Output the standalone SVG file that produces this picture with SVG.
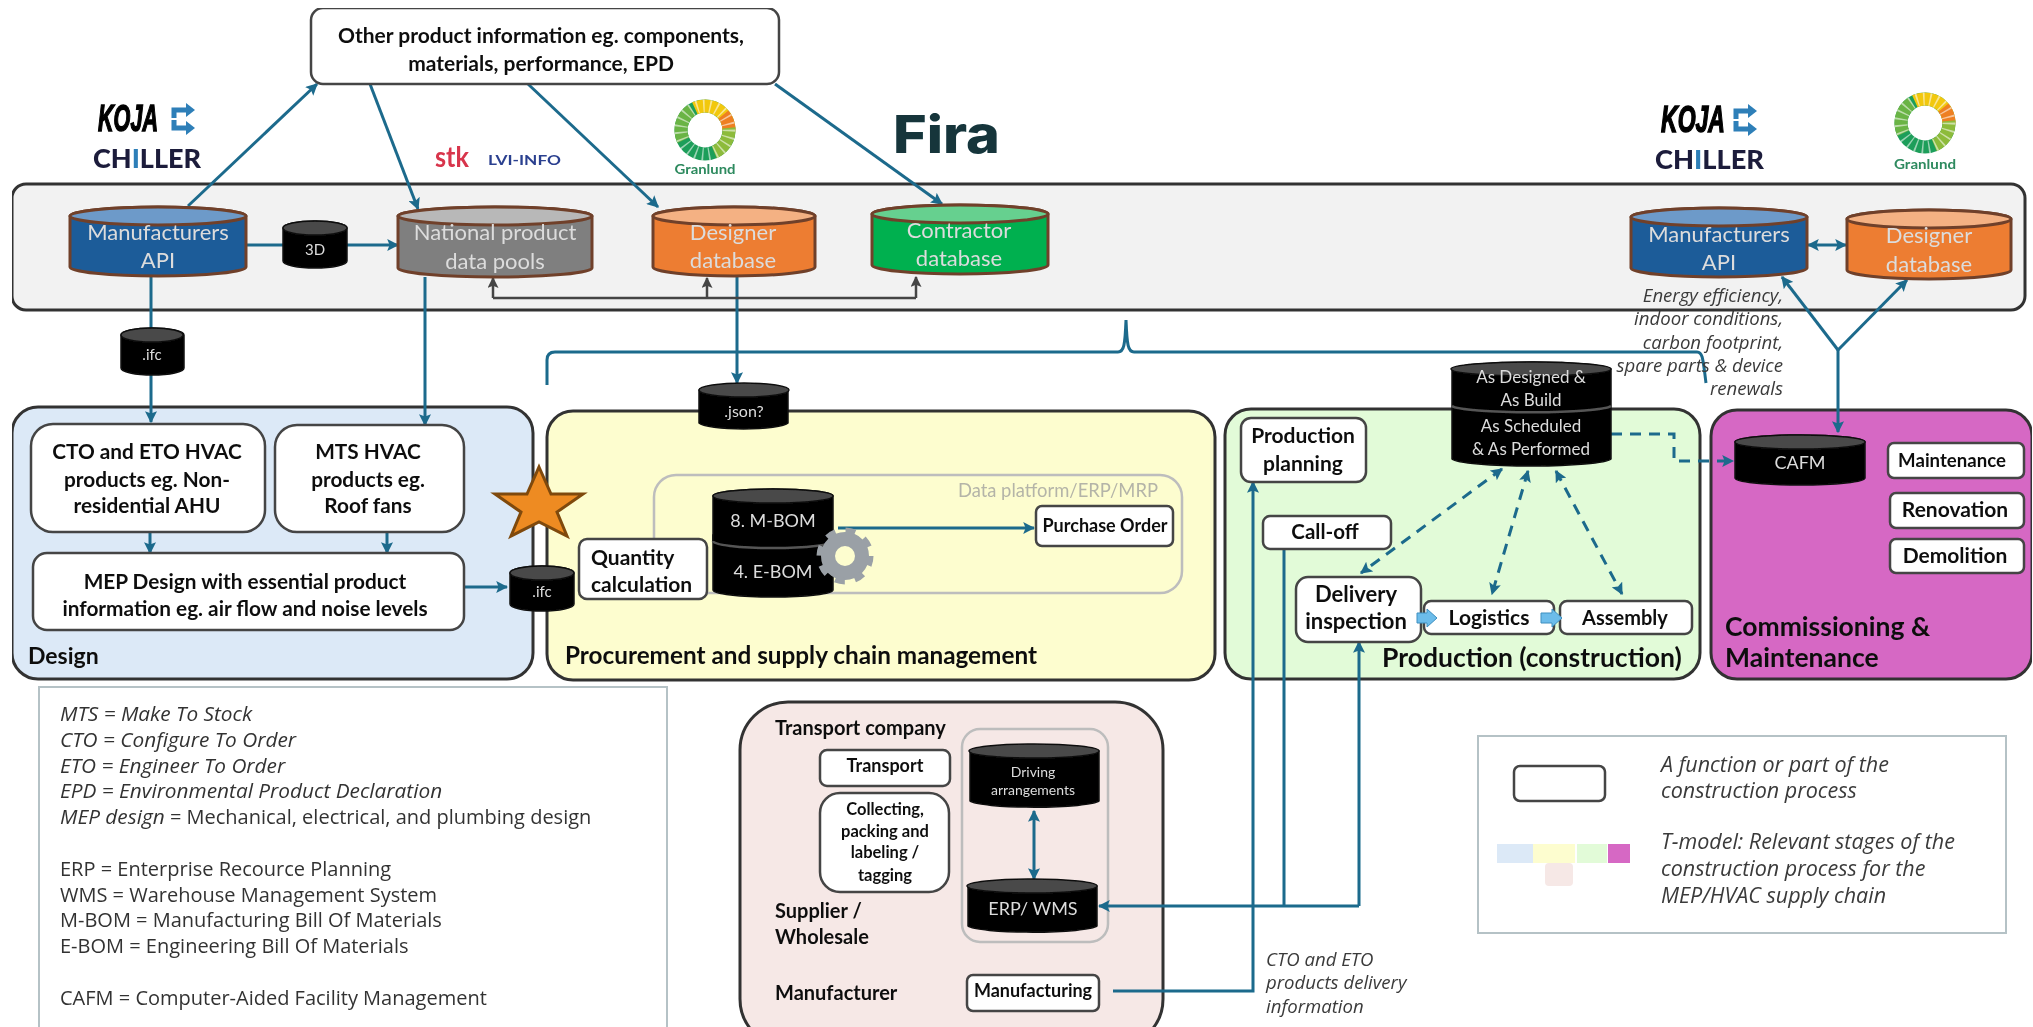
<svg xmlns="http://www.w3.org/2000/svg" width="2033" height="1027" viewBox="0 0 2033 1027">
<defs>
<style>
text{font-family:Lato,"Open Sans","Liberation Sans",sans-serif}
.stage{stroke:#333;stroke-width:3}
.box{fill:#fff;stroke:#444;stroke-width:2.5}
.c{text-anchor:middle}
.b{font-weight:700;fill:#111}
.t20{font-size:20.8px}
.t18{font-size:20px}
.lab{font-weight:700;fill:#111}
.cyl{stroke:#70412a;stroke-width:3}
.dk{fill:#000;stroke:#111;stroke-width:1.5}
.dkt{fill:#4a4a4a;stroke:#111;stroke-width:1.5}
.wt{fill:#dcdcdc;text-anchor:middle}
.w21{font-size:22px}
.link{fill:none;stroke:#1c6a8c;stroke-width:3}
.ar{marker-end:url(#a)}
.dbl{marker-end:url(#a);marker-start:url(#a)}
.dash{stroke-dasharray:11 8}
.gr{fill:none;stroke:#454545;stroke-width:2.5}
.note{font-family:"Open Sans",Lato,sans-serif;font-style:italic;font-size:18.6px;fill:#3a3a3a}
.abbr{font-family:"Open Sans",Lato,sans-serif;font-size:20px;fill:#333}
.it{font-style:italic;font-size:20.8px}
.leg{font-family:"Open Sans",Lato,sans-serif;font-style:italic;font-size:21.5px;fill:#3a3a3a}
.frame{fill:#fff;stroke:#b5c2c6;stroke-width:2}
.panel{fill:none;stroke:#bdbdbd;stroke-width:2.5}
.blk{fill:#6cbcea;stroke:#3d8fc0;stroke-width:1}
.koja{font-family:"Liberation Sans",sans-serif;font-weight:700;font-style:italic;font-size:36px;fill:#000;stroke:#000;stroke-width:1.5}
.fira{font-family:Inter,sans-serif;font-weight:800;font-size:52px;fill:#12343b}
</style>
<marker id="a" viewBox="0 0 10 10" refX="9" refY="5" markerWidth="12" markerHeight="12" markerUnits="userSpaceOnUse" orient="auto-start-reverse"><path d="M0 0L10 5L0 10L2 5Z" fill="#1c6a8c"/></marker>
<marker id="g" viewBox="0 0 10 10" refX="9" refY="5" markerWidth="11" markerHeight="11" markerUnits="userSpaceOnUse" orient="auto"><path d="M0 0L10 5L0 10L2 5Z" fill="#454545"/></marker>
<g id="wheel">
<circle r="24" fill="none" stroke="#1f9e5a" stroke-width="13"/>
<circle r="24" fill="none" stroke="#f2c811" stroke-width="13" stroke-dasharray="48 103" transform="rotate(-115)"/>
<circle r="24" fill="none" stroke="#ee7f22" stroke-width="13" stroke-dasharray="18 133" transform="rotate(-40)"/>
<circle r="24" fill="none" stroke="#8dbb3a" stroke-width="13" stroke-dasharray="30 121" transform="rotate(-5)"/>
<circle r="24" fill="none" stroke="#6bb445" stroke-width="13" stroke-dasharray="34 117" transform="rotate(155)"/>
<circle r="24" fill="none" stroke="#fff" stroke-width="13" stroke-dasharray="1.5 5" opacity=".55"/>
</g>
<g id="kojaicon" fill="none" stroke="#2d7fb8" stroke-width="5">
<path d="M20 7H7V15"/><path d="M20 25H7V17"/>
<path d="M19 0L28 7L19 14Z" fill="#2d7fb8" stroke="none"/><path d="M19 18L28 25L19 32Z" fill="#2d7fb8" stroke="none"/>
</g>
<filter id="soft" x="0" y="0" width="100%" height="100%"><feGaussianBlur stdDeviation="0.5"/></filter>
</defs>
<rect width="2033" height="1027" fill="#fff"/>
<g filter="url(#soft)">

<g id="logos">
<text x="98" y="131" class="koja" textLength="60" lengthAdjust="spacingAndGlyphs">KOJA</text>
<use href="#kojaicon" x="167" y="103"/>
<text x="93" y="168" font-size="27" font-weight="900" textLength="108" lengthAdjust="spacingAndGlyphs" fill="#1b1b3a">CH<tspan fill="#2d7fb8">I</tspan>LLER</text>
<text x="435" y="167" font-size="28" font-weight="700" textLength="34" lengthAdjust="spacingAndGlyphs" fill="#d8344c">stk</text>
<text x="488" y="165" font-size="13" font-weight="700" textLength="73" lengthAdjust="spacingAndGlyphs" fill="#2a3f8f">LVI-INFO</text>
<use href="#wheel" x="705" y="130"/>
<text x="705" y="174" class="c" font-size="14" font-weight="700" textLength="61" lengthAdjust="spacingAndGlyphs" fill="#2d8a5e">Granlund</text>
<text x="893" y="153" class="fira" textLength="107" lengthAdjust="spacingAndGlyphs">Fira</text>
<text x="1661" y="132" class="koja" textLength="64" lengthAdjust="spacingAndGlyphs">KOJA</text>
<use href="#kojaicon" x="1729" y="104"/>
<text x="1655" y="169" font-size="27" font-weight="900" textLength="109" lengthAdjust="spacingAndGlyphs" fill="#1b1b3a">CH<tspan fill="#2d7fb8">I</tspan>LLER</text>
<use href="#wheel" x="1925" y="123"/>
<text x="1925" y="169" class="c" font-size="14" font-weight="700" textLength="62" lengthAdjust="spacingAndGlyphs" fill="#2d8a5e">Granlund</text>
</g>

<g id="platform"><rect x="12" y="184" width="2013" height="126" rx="14" fill="#f2f2f2" class="stage"/></g>
<g id="stage-design"><rect x="12" y="407" width="521" height="272" rx="26" fill="#dce9f7" class="stage"/><text x="28" y="664" class="lab" font-size="23">Design</text></g>
<g id="stage-procurement"><rect x="547" y="411" width="668" height="269" rx="26" fill="#fdfdcf" class="stage"/><text x="565" y="664" class="lab" font-size="24.3">Procurement and supply chain management</text></g>
<g id="stage-production"><rect x="1225" y="409" width="475" height="270" rx="26" fill="#e2fbd8" class="stage"/><text x="1382" y="667" class="lab" font-size="26.5">Production (construction)</text></g>
<g id="stage-commissioning"><rect x="1711" y="410" width="321" height="269" rx="26" fill="#d667c4" class="stage"/><text x="1725" y="636" class="lab" font-size="26.5">Commissioning &amp;</text><text x="1725" y="667" class="lab" font-size="26.5">Maintenance</text></g>
<g id="stage-supply"><rect x="740" y="702" width="423" height="345" rx="48" fill="#f6e8e6" class="stage"/><text x="775" y="735" class="b t18">Transport company</text><text x="775" y="918" class="b t18">Supplier /</text><text x="775" y="944" class="b t18">Wholesale</text><text x="775" y="1000" class="b t18">Manufacturer</text></g>
<g id="panels"><rect x="654" y="475" width="528" height="118" rx="22" class="panel"/><text x="1158" y="497" text-anchor="end" font-size="18.4" fill="#b4b4a8">Data platform/ERP/MRP</text><rect x="962" y="729" width="146" height="213" rx="18" class="panel"/></g>

<g id="connectors">
<path class="link ar" d="M188 206L317 84"/>
<path class="link ar" d="M370 84L418 209"/>
<path class="link ar" d="M528 84L658 207"/>
<path class="link ar" d="M775 84L942 204"/>
<path class="link ar" d="M246 245H398"/>
<path class="link" d="M151 276V328"/>
<path class="link ar" d="M151 375V422"/>
<path class="link ar" d="M425 277V425"/>
<path class="link ar" d="M737 277V383"/>
<path class="gr" d="M493 298H916"/>
<path class="gr" d="M493 298V278" marker-end="url(#g)"/>
<path class="gr" d="M707 298V278" marker-end="url(#g)"/>
<path class="gr" d="M916 298V277" marker-end="url(#g)"/>
<path class="link" d="M547 385V360Q547 352 555 352H1118C1124 352 1125 345 1126 320C1127 345 1128 352 1134 352H1697C1703 352 1703 360 1706 383"/>
<path class="link ar" d="M1838 350V432"/>
<path class="link ar" d="M1838 350L1782 277"/>
<path class="link ar" d="M1838 350L1907 280"/>
<path class="link dbl" d="M1808 245H1846"/>
<path class="link ar" d="M150 532V553"/>
<path class="link ar" d="M387 532V553"/>
<path class="link ar" d="M464 587H507"/>
<path class="link ar" d="M838 528H1034"/>
<path class="link dash dbl" d="M1502 469L1361 573"/>
<path class="link dash dbl" d="M1528 471L1492 594"/>
<path class="link dash dbl" d="M1556 471L1622 594"/>
<path class="link dash ar" d="M1611 434H1674V461H1733"/>
<path class="link ar" d="M1113 991H1253V482"/>
<path class="link" d="M1284 549V906"/>
<path class="link ar" d="M1359 906V642"/>
<path class="link ar" d="M1359 906H1099"/>
<path class="link dbl" d="M1034 811V879"/>
</g>

<g id="top-info"><rect x="311" y="8" width="468" height="76" rx="12" class="box"/><text x="541" y="43" class="c b" font-size="21">Other product information eg. components,</text><text x="541" y="71" class="c b" font-size="21">materials, performance, EPD</text></g>

<g id="db-manufacturers"><path class="cyl" fill="#1f5c99" d="M70 216V267A88 9 0 0 0 246 267V216A88 9 0 0 0 70 216Z"/><ellipse class="cyl" fill="#6d9ac9" cx="158" cy="216" rx="88" ry="9"/><text x="158" y="240" class="wt w21">Manufacturers</text><text x="158" y="268" class="wt w21">API</text></g>
<g id="db-3d"><path class="dk" d="M283 228V261A32 7 0 0 0 347 261V228A32 7 0 0 0 283 228Z"/><ellipse class="dkt" cx="315" cy="228" rx="32" ry="7"/><text x="315" y="255" class="wt" font-size="15">3D</text></g>
<g id="db-national"><path class="cyl" fill="#7f7f7f" d="M398 216V268A97 9 0 0 0 592 268V216A97 9 0 0 0 398 216Z"/><ellipse class="cyl" fill="#b8b8b8" cx="495" cy="216" rx="97" ry="9"/><text x="495" y="240" class="wt w21">National product</text><text x="495" y="269" class="wt w21">data pools</text></g>
<g id="db-designer"><path class="cyl" fill="#ed7d31" d="M653 216V267A81 9 0 0 0 815 267V216A81 9 0 0 0 653 216Z"/><ellipse class="cyl" fill="#f4b183" cx="734" cy="216" rx="81" ry="9"/><text x="733" y="240" class="wt w21">Designer</text><text x="733" y="268" class="wt w21">database</text></g>
<g id="db-contractor"><path class="cyl" fill="#00b050" d="M872 214V265A88 9 0 0 0 1048 265V214A88 9 0 0 0 872 214Z"/><ellipse class="cyl" fill="#66d08f" cx="960" cy="214" rx="88" ry="9"/><text x="959" y="238" class="wt w21">Contractor</text><text x="959" y="266" class="wt w21">database</text></g>
<g id="db-manufacturers2"><path class="cyl" fill="#1f5c99" d="M1631 217V268A88 9 0 0 0 1807 268V217A88 9 0 0 0 1631 217Z"/><ellipse class="cyl" fill="#6d9ac9" cx="1719" cy="217" rx="88" ry="9"/><text x="1719" y="242" class="wt w21">Manufacturers</text><text x="1719" y="270" class="wt w21">API</text></g>
<g id="db-designer2"><path class="cyl" fill="#ed7d31" d="M1847 219V270A82 9 0 0 0 2011 270V219A82 9 0 0 0 1847 219Z"/><ellipse class="cyl" fill="#f4b183" cx="1929" cy="219" rx="82" ry="9"/><text x="1929" y="243" class="wt w21">Designer</text><text x="1929" y="272" class="wt w21">database</text></g>
<g id="db-ifc1"><path class="dk" d="M121 335V368A31 7 0 0 0 184 368V335A31 7 0 0 0 121 335Z"/><ellipse class="dkt" cx="152" cy="335" rx="31" ry="7"/><text x="152" y="360" class="wt" font-size="15">.ifc</text></g>
<g id="db-json"><path class="dk" d="M699 390V423A45 7 0 0 0 788 423V390A45 7 0 0 0 699 390Z"/><ellipse class="dkt" cx="744" cy="390" rx="45" ry="7"/><text x="744" y="417" class="wt" font-size="16">.json?</text></g>

<g id="note-energy"><text class="note" x="1783" y="302" text-anchor="end">Energy efficiency,</text><text class="note" x="1783" y="325" text-anchor="end">indoor conditions,</text><text class="note" x="1783" y="349" text-anchor="end">carbon footprint,</text><text class="note" x="1783" y="372" text-anchor="end">spare parts &amp; device</text><text class="note" x="1783" y="395" text-anchor="end">renewals</text></g>

<g id="n-cto"><rect x="31" y="424" width="234" height="108" rx="22" class="box"/><text x="147" y="459" class="c b t20">CTO and ETO HVAC</text><text x="147" y="487" class="c b t20">products eg. Non-</text><text x="147" y="513" class="c b t20">residential AHU</text></g>
<g id="n-mts"><rect x="275" y="425" width="189" height="107" rx="22" class="box"/><text x="368" y="459" class="c b t20">MTS HVAC</text><text x="368" y="487" class="c b t20">products eg.</text><text x="368" y="513" class="c b t20">Roof fans</text></g>
<g id="n-mep"><rect x="33" y="553" width="431" height="77" rx="14" class="box"/><text x="245" y="589" class="c b t20">MEP Design with essential product</text><text x="245" y="616" class="c b t20">information eg. air flow and noise levels</text></g>
<g id="db-ifc2"><path class="dk" d="M510 573V604A32 7 0 0 0 574 604V573A32 7 0 0 0 510 573Z"/><ellipse class="dkt" cx="542" cy="573" rx="32" ry="7"/><text x="542" y="597" class="wt" font-size="15">.ifc</text></g>
<g id="star"><path d="M539 467L551 494H583L557 512L567 536L539 522L511 536L521 512L495 494H527Z" fill="#ee8b21" stroke="#7f4a0c" stroke-width="3"/></g>

<g id="n-quantity"><rect x="579" y="539" width="128" height="60" rx="8" class="box"/><text x="591" y="565" class="b" font-size="21">Quantity</text><text x="591" y="592" class="b" font-size="21">calculation</text></g>
<g id="db-ebom"><path class="dk" d="M713 535V590A60 7 0 0 0 833 590V535Z"/><text x="773" y="578" class="wt" font-size="18">4. E-BOM</text></g>
<g id="db-mbom"><path class="dk" d="M713 496V541A60 7 0 0 0 833 541V496A60 7 0 0 0 713 496Z"/><ellipse class="dkt" cx="773" cy="496" rx="60" ry="7"/><path d="M713 541A60 7 0 0 0 833 541" fill="none" stroke="#555" stroke-width="2.5"/><text x="773" y="527" class="wt" font-size="18">8. M-BOM</text></g>
<g id="gear" fill="none" stroke="#9aa0a6"><circle cx="845" cy="556" r="17" stroke-width="14"/><circle cx="845" cy="556" r="25" stroke-width="7" stroke-dasharray="9.6 10"/></g>
<g id="n-po"><rect x="1036" y="506" width="137" height="40" rx="6" class="box"/><text x="1105" y="532" class="c b" font-size="18">Purchase Order</text></g>

<g id="n-planning"><rect x="1241" y="418" width="125" height="64" rx="10" class="box"/><text x="1303" y="443" class="c b" font-size="21">Production</text><text x="1303" y="471" class="c b" font-size="21">planning</text></g>
<g id="n-calloff"><rect x="1263" y="516" width="128" height="33" rx="7" class="box"/><text x="1325" y="539" class="c b" font-size="20.5">Call-off</text></g>
<g id="n-delivery"><rect x="1296" y="577" width="125" height="65" rx="12" class="box"/><text x="1356" y="602" class="c b" font-size="22">Delivery</text><text x="1356" y="629" class="c b" font-size="22">inspection</text></g>
<g id="n-logistics"><rect x="1424" y="601" width="130" height="33" rx="7" class="box"/><text x="1489" y="625" class="c b" font-size="21">Logistics</text></g>
<g id="n-assembly"><rect x="1560" y="601" width="132" height="33" rx="7" class="box"/><text x="1625" y="625" class="c b" font-size="20">Assembly</text></g>
<g id="blockarrows"><path class="blk" d="M1417 613H1427V609L1437 618L1427 627V623H1417Z"/><path class="blk" d="M1541 613H1552V609L1562 618L1552 627V623H1541Z"/></g>
<g id="db-asbuilt"><path class="dk" d="M1452 369V459A80 8 0 0 0 1611 459V369A80 8 0 0 0 1452 369Z"/><ellipse class="dkt" cx="1531" cy="369" rx="80" ry="7"/><path d="M1452 406A80 7 0 0 0 1611 406" fill="none" stroke="#555" stroke-width="2.5"/><text x="1531" y="383" class="wt" font-size="17">As Designed &amp;</text><text x="1531" y="406" class="wt" font-size="17">As Build</text><text x="1531" y="432" class="wt" font-size="17">As Scheduled</text><text x="1531" y="455" class="wt" font-size="17">&amp; As Performed</text></g>

<g id="db-cafm"><path class="dk" d="M1735 442V478A65 7 0 0 0 1865 478V442A65 7 0 0 0 1735 442Z"/><ellipse class="dkt" cx="1800" cy="442" rx="65" ry="7"/><text x="1800" y="469" class="wt" font-size="18">CAFM</text></g>
<g id="n-maintenance"><rect x="1888" y="443" width="136" height="35" rx="6" class="box"/><text x="1952" y="467" class="c b" font-size="18.6">Maintenance</text></g>
<g id="n-renovation"><rect x="1890" y="493" width="134" height="35" rx="6" class="box"/><text x="1955" y="517" class="c b" font-size="21">Renovation</text></g>
<g id="n-demolition"><rect x="1890" y="539" width="134" height="34" rx="6" class="box"/><text x="1955" y="563" class="c b" font-size="21">Demolition</text></g>

<g id="n-transport"><rect x="820" y="750" width="130" height="36" rx="7" class="box"/><text x="885" y="772" class="c b" font-size="18">Transport</text></g>
<g id="n-collecting"><rect x="820" y="793" width="129" height="99" rx="20" class="box"/><text x="885" y="815" class="c b" font-size="16.5">Collecting,</text><text x="885" y="837" class="c b" font-size="16.5">packing and</text><text x="885" y="858" class="c b" font-size="16.5">labeling /</text><text x="885" y="881" class="c b" font-size="16.5">tagging</text></g>
<g id="db-driving"><path class="dk" d="M970 751V801A65 7 0 0 0 1099 801V751A65 7 0 0 0 970 751Z"/><ellipse class="dkt" cx="1034" cy="751" rx="65" ry="7"/><text x="1033" y="777" class="wt" font-size="14">Driving</text><text x="1033" y="795" class="wt" font-size="14">arrangements</text></g>
<g id="db-erp"><path class="dk" d="M968 886V926A65 7 0 0 0 1097 926V886A65 7 0 0 0 968 886Z"/><ellipse class="dkt" cx="1032" cy="886" rx="65" ry="7"/><text x="1033" y="915" class="wt" font-size="18">ERP/ WMS</text></g>
<g id="n-manufacturing"><rect x="967" y="975" width="132" height="36" rx="6" class="box"/><text x="1033" y="997" class="c b" font-size="18">Manufacturing</text></g>
<g id="note-cto"><text class="note" x="1266" y="966">CTO and ETO</text><text class="note" x="1266" y="989">products delivery</text><text class="note" x="1266" y="1013">information</text></g>

<g id="abbreviations"><rect x="39" y="687" width="628" height="360" class="frame"/>
<text class="abbr it" x="60" y="721">MTS = Make To Stock</text>
<text class="abbr it" x="60" y="747">CTO = Configure To Order</text>
<text class="abbr it" x="60" y="773">ETO = Engineer To Order</text>
<text class="abbr it" x="60" y="798">EPD = Environmental Product Declaration</text>
<text class="abbr" x="60" y="824"><tspan class="it">MEP design</tspan> = Mechanical, electrical, and plumbing design</text>
<text class="abbr" x="60" y="876">ERP = Enterprise Recource Planning</text>
<text class="abbr" x="60" y="902">WMS = Warehouse Management System</text>
<text class="abbr" x="60" y="927">M-BOM = Manufacturing Bill Of Materials</text>
<text class="abbr" x="60" y="953">E-BOM = Engineering Bill Of Materials</text>
<text class="abbr" x="60" y="1005">CAFM = Computer-Aided Facility Management</text></g>

<g id="legend"><rect x="1478" y="736" width="528" height="197" class="frame"/>
<rect x="1514" y="766" width="91" height="35" rx="6" fill="#fff" stroke="#444" stroke-width="2.5"/>
<text class="leg" x="1661" y="772">A function or part of the</text><text class="leg" x="1661" y="798">construction process</text>
<rect x="1497" y="844" width="36" height="19" fill="#dce9f7"/><rect x="1533" y="844" width="42" height="19" fill="#fdfdcf"/><rect x="1577" y="844" width="30" height="19" fill="#e2fbd8"/><rect x="1608" y="844" width="22" height="19" fill="#d667c4"/><rect x="1545" y="863" width="28" height="23" rx="4" fill="#f6e8e6"/>
<text class="leg" x="1661" y="849">T-model: Relevant stages of the</text><text class="leg" x="1661" y="876">construction process for the</text><text class="leg" x="1661" y="903">MEP/HVAC supply chain</text></g>
</g>
</svg>
